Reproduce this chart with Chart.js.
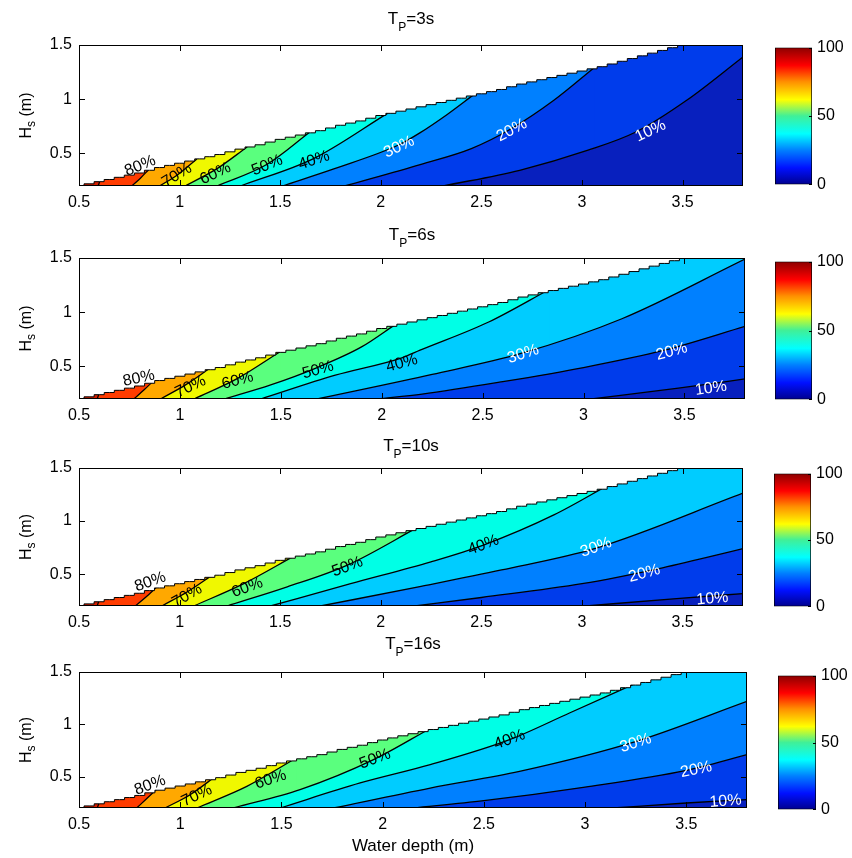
<!DOCTYPE html>
<html>
<head>
<meta charset="utf-8">
<title>Breaking probability vs water depth</title>
<script src="https://cdn.jsdelivr.net/npm/chart.js@4.4.1/dist/chart.umd.min.js"></script>
<style>
  body { margin: 0; background: #fff; overflow: hidden; }
  #wrap { position: relative; width: 852px; height: 858px; background: #fff; }
  #wrap canvas { position: absolute; }
</style>
</head>
<body>
<div id="wrap"></div>
<script>
// peak periods, one panel each
const peakPeriods = [3, 6, 10, 16];

// contour levels (%) drawn in every panel
const levels = [90, 80, 70, 60, 50, 40, 30, 20, 10];

// breaking limit: largest Hs (m) for each water depth (m)
const depth = [0.50, 0.55, 0.60, 0.65, 0.70, 0.75, 0.80, 0.85, 0.90, 0.95, 1.00, 1.05, 1.10, 1.15, 1.20, 1.25,
               1.30, 1.35, 1.40, 1.45, 1.50, 1.55, 1.60, 1.65, 1.70, 1.75, 1.80, 1.85, 1.90, 1.95, 2.00, 2.05,
               2.10, 2.15, 2.20, 2.25, 2.30, 2.35, 2.40, 2.45, 2.50, 2.55, 2.60, 2.65, 2.70, 2.75, 2.80, 2.85,
               2.90, 2.95, 3.00, 3.05, 3.10, 3.15, 3.20, 3.25, 3.30, 3.35, 3.40, 3.45, 3.50, 3.80];
const hsMax = [0.20, 0.22, 0.24, 0.26, 0.28, 0.30, 0.32, 0.345, 0.37, 0.39, 0.41, 0.43, 0.45, 0.47, 0.49, 0.515,
               0.54, 0.56, 0.58, 0.605, 0.63, 0.65, 0.67, 0.69, 0.71, 0.735, 0.76, 0.78, 0.80, 0.825, 0.85, 0.87,
               0.89, 0.91, 0.93, 0.95, 0.97, 0.99, 1.01, 1.03, 1.05, 1.07, 1.09, 1.115, 1.14, 1.16, 1.18, 1.20,
               1.22, 1.24, 1.26, 1.28, 1.30, 1.325, 1.35, 1.375, 1.40, 1.425, 1.45, 1.475, 1.50, 1.50];

// contour lines [depth, Hs], same order as levels
const tp3Lines = [
  [[0.595, 0.2], [0.605, 0.25]],
  [[0.762, 0.2], [0.804, 0.27], [0.846, 0.35]],
  [[0.900, 0.2], [0.987, 0.30], [1.086, 0.45]],
  [[1.028, 0.2], [1.186, 0.36], [1.336, 0.56]],
  [[1.186, 0.2], [1.435, 0.40], [1.643, 0.69]],
  [[1.302, 0.2], [1.668, 0.455], [2.033, 0.87]],
  [[1.51, 0.2], [1.77, 0.36], [2.09, 0.58], [2.194, 0.69], [2.33, 0.86], [2.46, 1.04]],
  [[1.82, 0.2], [2.2, 0.40], [2.45, 0.545], [2.65, 0.73], [2.86, 0.99], [3.06, 1.29]],
  [[2.31, 0.2], [2.69, 0.345], [3.03, 0.53], [3.27, 0.70], [3.52, 0.99], [3.8, 1.39]]
];
const tp6Lines = [
  [[0.59, 0.2], [0.60, 0.25]],
  [[0.771, 0.2], [0.82, 0.28], [0.87, 0.37]],
  [[0.904, 0.2], [1.028, 0.33], [1.153, 0.49]],
  [[1.07, 0.2], [1.286, 0.39], [1.50, 0.64]],
  [[1.22, 0.2], [1.45, 0.33], [1.68, 0.49], [1.90, 0.68], [2.07, 0.89]],
  [[1.40, 0.2], [1.77, 0.42], [2.10, 0.58], [2.19, 0.65], [2.53, 0.91], [2.83, 1.21]],
  [[1.68, 0.2], [2.25, 0.427], [2.69, 0.62], [3.19, 0.94], [3.8, 1.49]],
  [[1.98, 0.2], [2.2, 0.245], [2.6, 0.36], [3.0, 0.49], [3.4, 0.65], [3.8, 0.87]],
  [[3.04, 0.2], [3.47, 0.30], [3.8, 0.385]]
];
const tp10Lines = [
  [[0.59, 0.2], [0.60, 0.25]],
  [[0.779, 0.2], [0.83, 0.28], [0.887, 0.38]],
  [[0.912, 0.2], [1.037, 0.332], [1.169, 0.50]],
  [[1.07, 0.2], [1.319, 0.411], [1.568, 0.67]],
  [[1.236, 0.2], [1.535, 0.38], [1.834, 0.585], [2.183, 0.94]],
  [[1.452, 0.2], [1.85, 0.411], [2.249, 0.616], [2.51, 0.774], [2.86, 1.058], [3.141, 1.35]],
  [[1.70, 0.2], [2.2, 0.385], [2.6, 0.54], [3.066, 0.743], [3.8, 1.263]],
  [[2.17, 0.2], [2.5, 0.28], [3.0, 0.41], [3.4, 0.56], [3.8, 0.74]],
  [[3.02, 0.2], [3.47, 0.27], [3.8, 0.317]]
];
const tp16Lines = [
  [[0.59, 0.2], [0.60, 0.25]],
  [[0.785, 0.2], [0.835, 0.29], [0.884, 0.38]],
  [[0.925, 0.2], [1.049, 0.327], [1.18, 0.51]],
  [[1.082, 0.2], [1.329, 0.407], [1.576, 0.68]],
  [[1.263, 0.2], [1.592, 0.375], [1.955, 0.662], [2.235, 0.96]],
  [[1.493, 0.2], [1.889, 0.439], [2.235, 0.614], [2.627, 0.853], [2.923, 1.108], [3.26, 1.40]],
  [[1.757, 0.2], [2.235, 0.391], [2.676, 0.55], [3.253, 0.837], [3.8, 1.219]],
  [[2.15, 0.2], [2.5, 0.27], [3.0, 0.40], [3.5, 0.56], [3.8, 0.71]],
  [[3.138, 0.2], [3.50, 0.248], [3.8, 0.28]]
];

// axis ticks
const xTicks = [0.5, 1, 1.5, 2, 2.5, 3, 3.5];
const yTicks = [0.5, 1, 1.5];
const barTicks = [0, 50, 100];
const barRange = [0, 100];

// fill colour of each 10% band, 0-10 up to 90-100
const bandColors = ['#0820BE', '#003CEB', '#0080FF', '#00CCFF', '#00FFE6',
                    '#5AFF7E', '#F0F800', '#FFA800', '#FF3C00', '#D81E00'];
const jetStops = [[0, '#00008F'], [0.12, '#0010FF'], [0.25, '#0080FF'], [0.37, '#00FFFF'],
                  [0.5, '#40F098'], [0.62, '#FFFF00'], [0.75, '#FF9000'], [0.87, '#FF0000'], [1, '#8C0000']];

const FONT = '"Liberation Sans", Arial, Helvetica, sans-serif';
Chart.defaults.font.family = FONT;
Chart.defaults.color = '#000';

// layout of each panel (page pixels) and where its contour labels sit
const W = '#fff', K = '#000';
const panels = [
  { tp: peakPeriods[0], lines: tp3Lines, canvasTop: 0, canvasH: 215, top: 45, bottom: 186, right: 743, titleGap: 21,
    bar: { left: 775, right: 812, top: 45, bottom: 187 },
    tags: [[0.804, 0.385, -22, K], [0.987, 0.298, -32, K], [1.178, 0.314, -25, K], [1.435, 0.39, -22, K],
           [1.668, 0.437, -18, K], [2.091, 0.56, -25, W], [2.651, 0.714, -28, W], [3.341, 0.708, -25, W]] },
  { tp: peakPeriods[1], lines: tp6Lines, canvasTop: 215, canvasH: 210, top: 258, bottom: 399, right: 745, titleGap: 18,
    bar: { left: 775, right: 812, top: 259, bottom: 402 },
    tags: [[0.796, 0.39, -12, K], [1.053, 0.313, -25, K], [1.286, 0.369, -15, K], [1.684, 0.467, -15, K],
           [2.10, 0.528, -15, K], [2.701, 0.614, -18, W], [3.437, 0.636, -15, W], [3.631, 0.298, -8, W]] },
  { tp: peakPeriods[2], lines: tp10Lines, canvasTop: 425, canvasH: 210, top: 468, bottom: 606, right: 743, titleGap: 17,
    bar: { left: 774, right: 811, top: 471, bottom: 609 },
    tags: [[0.854, 0.427, -20, K], [1.037, 0.295, -30, K], [1.336, 0.373, -20, K], [1.834, 0.569, -20, K],
           [2.51, 0.774, -20, K], [3.07, 0.752, -20, W], [3.31, 0.506, -15, W], [3.648, 0.269, -5, W]] },
  { tp: peakPeriods[3], lines: tp16Lines, canvasTop: 635, canvasH: 223, top: 672, bottom: 808, right: 747, titleGap: 23,
    bar: { left: 778, right: 816, top: 673, bottom: 812 }, xTitle: 'Water depth (m)',
    tags: [[0.851, 0.417, -20, K], [1.082, 0.318, -25, K], [1.447, 0.471, -18, K], [1.963, 0.668, -20, K],
           [2.627, 0.853, -20, K], [3.25, 0.821, -18, W], [3.549, 0.566, -12, W], [3.694, 0.264, -5, W]] }
];

const wrap = document.getElementById('wrap');
function addCanvas(left, top, w, h) {
  const c = document.createElement('canvas');
  c.width = w; c.height = h;
  c.style.left = left + 'px'; c.style.top = top + 'px';
  c.style.width = w + 'px'; c.style.height = h + 'px';
  wrap.appendChild(c);
  return c;
}

const pts = arr => arr.map(([x, y]) => ({ x, y }));

function block(arr, color) {
  return { data: pts(arr), showLine: true, fill: 'start', backgroundColor: color,
           borderWidth: 0, borderColor: 'rgba(0,0,0,0)', pointRadius: 0 };
}

// stacked fills: each contour paints the band below/right of it over the previous one
function contourDatasets(lines) {
  const sets = [block([[0.5, 1.5], [3.8, 1.5]], bandColors[9])];
  levels.forEach((lev, i) => {
    const line = lines[i];
    const band = bandColors[lev / 10 - 1];
    const end = line[line.length - 1];
    // everything right of where the contour meets the breaking limit (small overlap avoids a seam)
    if (end[0] < 3.8) sets.push(block([[end[0] - 0.004, 1.5], [3.8, 1.5]], band));
    sets.push({ data: pts(line), showLine: true, fill: 'start', backgroundColor: band,
                borderColor: '#000', borderWidth: 1.3, cubicInterpolationMode: 'monotone', pointRadius: 0 });
  });
  // nothing above the breaking limit
  sets.push({ data: pts(depth.map((d, i) => [d, hsMax[i]])), showLine: true, stepped: 'middle',
              fill: 'end', backgroundColor: '#fff', borderColor: '#000', borderWidth: 1, pointRadius: 0 });
  sets.forEach((s, i) => { s.order = sets.length - i; s.clip = 0; });
  return sets;
}

function drawRich(ctx, parts, x, y) {
  let w = 0;
  parts.forEach(([t, size]) => { ctx.font = size + 'px ' + FONT; w += ctx.measureText(t).width; });
  let cx = x - w / 2;
  parts.forEach(([t, size, dy]) => {
    ctx.font = size + 'px ' + FONT;
    ctx.fillText(t, cx, y + dy);
    cx += ctx.measureText(t).width;
  });
}

function decor(p) {
  return {
    id: 'decor',
    afterDatasetsDraw(chart) {
      const { ctx, chartArea: a } = chart;
      const sx = chart.scales.x, sy = chart.scales.y;
      ctx.save();
      ctx.strokeStyle = '#000';
      ctx.lineWidth = 1;
      ctx.beginPath();
      xTicks.forEach(v => {
        const px = Math.round(sx.getPixelForValue(v)) + 0.5;
        ctx.moveTo(px, a.bottom); ctx.lineTo(px, a.bottom - 6);
        ctx.moveTo(px, a.top); ctx.lineTo(px, a.top + 6);
      });
      yTicks.forEach(v => {
        const py = Math.round(sy.getPixelForValue(v)) + 0.5;
        ctx.moveTo(a.left, py); ctx.lineTo(a.left + 6, py);
        ctx.moveTo(a.right, py); ctx.lineTo(a.right - 6, py);
      });
      ctx.stroke();
      ctx.strokeRect(a.left + 0.5, a.top + 0.5, a.width - 1, a.height - 1);

      // contour labels
      ctx.font = '16px ' + FONT;
      ctx.textAlign = 'center';
      ctx.textBaseline = 'middle';
      p.tags.forEach(([x, y, ang, col], i) => {
        ctx.save();
        ctx.translate(sx.getPixelForValue(x), sy.getPixelForValue(y));
        ctx.rotate(ang * Math.PI / 180);
        ctx.fillStyle = col;
        ctx.fillText(levels[i + 1] + '%', 0, 0);
        ctx.restore();
      });
      ctx.restore();
    },
    afterDraw(chart) {
      const { ctx, chartArea: a } = chart;
      ctx.save();
      ctx.fillStyle = '#000';
      ctx.textAlign = 'left';
      ctx.textBaseline = 'alphabetic';
      const cx = (a.left + a.right) / 2;
      drawRich(ctx, [['T', 17, 0], ['P', 12, 7], ['=' + p.tp + 's', 17, 0]], cx, a.top - p.titleGap);
      if (p.xTitle) drawRich(ctx, [[p.xTitle, 17, 0]], cx, a.bottom + 43);
      ctx.translate(31, (a.top + a.bottom) / 2);
      ctx.rotate(-Math.PI / 2);
      drawRich(ctx, [['H', 16, 0], ['s', 12, 4], [' (m)', 16, 0]], 0, 0);
      ctx.restore();
    }
  };
}

panels.forEach(p => {
  const cv = addCanvas(0, p.canvasTop, 852, p.canvasH);
  new Chart(cv, {
    type: 'scatter',
    data: { datasets: contourDatasets(p.lines) },
    options: {
      responsive: false,
      animation: false,
      events: [],
      devicePixelRatio: 1,
      layout: { padding: { left: 0, right: 852 - p.right, top: p.top - p.canvasTop,
                           bottom: p.canvasTop + p.canvasH - p.bottom - 24 } },
      plugins: { legend: { display: false }, tooltip: { enabled: false } },
      scales: {
        x: {
          type: 'linear', min: 0.5, max: 3.8,
          grid: { display: false, drawTicks: false }, border: { display: false },
          afterBuildTicks: s => { s.ticks = xTicks.map(value => ({ value })); },
          afterFit: s => { s.height = 24; },
          ticks: { padding: 7, font: { size: 16 }, color: '#000', maxRotation: 0, autoSkip: false,
                   callback: v => String(v) }
        },
        y: {
          type: 'linear', min: 0.2, max: 1.5,
          grid: { display: false, drawTicks: false }, border: { display: false },
          afterBuildTicks: s => { s.ticks = yTicks.map(value => ({ value })); },
          afterFit: s => { s.width = 79; },
          ticks: { padding: 7, font: { size: 16 }, color: '#000', callback: v => String(v) }
        }
      }
    },
    plugins: [decor(p)]
  });
});

// colour bars
function jetFill(chart) {
  const a = chart.chartArea;
  if (!a) return 'rgba(0,0,0,0)';
  const g = chart.ctx.createLinearGradient(0, a.bottom, 0, a.top);
  jetStops.forEach(([t, c]) => g.addColorStop(t, c));
  return g;
}

const barMarks = {
  id: 'barMarks',
  afterDatasetsDraw(chart) {
    const { ctx, chartArea: a } = chart;
    ctx.save();
    ctx.strokeStyle = '#000';
    ctx.lineWidth = 1;
    ctx.beginPath();
    barTicks.forEach(v => {
      const py = Math.round(chart.scales.y.getPixelForValue(v)) + 0.5;
      ctx.moveTo(a.right, py); ctx.lineTo(a.right - 3, py);
    });
    ctx.stroke();
    ctx.restore();
  }
};

panels.forEach(p => {
  const b = p.bar;
  const left = b.left - 2, top = b.top - 12;
  const w = 852 - left, h = b.bottom - b.top + 24;
  const cv = addCanvas(left, top, w, h);
  new Chart(cv, {
    type: 'bar',
    data: {
      labels: [''],
      datasets: [{ data: [barRange], backgroundColor: c => jetFill(c.chart), borderColor: '#000',
                   borderWidth: 1, borderSkipped: false, barPercentage: 1, categoryPercentage: 1 }]
    },
    options: {
      responsive: false,
      animation: false,
      events: [],
      devicePixelRatio: 1,
      layout: { padding: { left: 2, top: 12, bottom: 12, right: 0 } },
      plugins: { legend: { display: false }, tooltip: { enabled: false } },
      scales: {
        x: { display: false },
        y: {
          position: 'right', min: 0, max: 100,
          grid: { display: false, drawTicks: false }, border: { display: false },
          afterBuildTicks: s => { s.ticks = barTicks.map(value => ({ value })); },
          afterFit: s => { s.width = w - 2 - (b.right - b.left); },
          ticks: { padding: 5, font: { size: 16 }, color: '#000' }
        }
      }
    },
    plugins: [barMarks]
  });
});
</script>
</body>
</html>
